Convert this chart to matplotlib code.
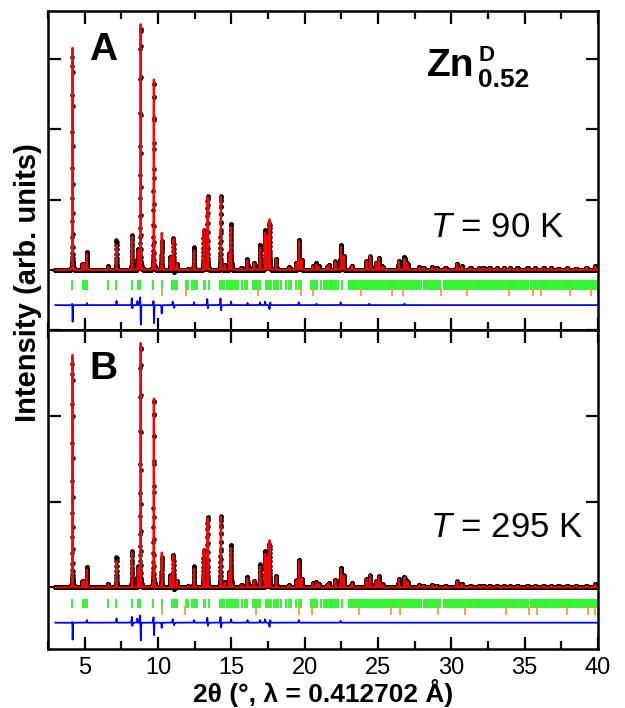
import numpy as np
import matplotlib
matplotlib.use('Agg')
import matplotlib.pyplot as plt

plt.rcParams['font.family'] = ['Liberation Sans', 'DejaVu Sans']
plt.rcParams['mathtext.fontset'] = 'custom'
plt.rcParams['mathtext.rm'] = 'Liberation Sans'
plt.rcParams['mathtext.it'] = 'Liberation Sans:italic'
plt.rcParams['mathtext.bf'] = 'Liberation Sans:bold'

# ---- data ----
# peak positions (2theta, deg) and heights (arb. units) for 90 K (A) and 295 K (B)
peak_pos = [4.17, 4.85, 4.93, 5.15, 6.59, 7.17, 8.23, 8.62, 8.81, 9.71,
            10.25, 10.85, 11.05, 11.30, 12.05, 12.45, 13.11, 13.38, 14.28, 14.55,
            14.86, 14.98, 15.70, 16.08, 16.53, 16.95, 17.31, 17.45, 17.60, 18.05,
            18.95, 19.44, 19.62, 19.80, 20.56, 20.79, 20.95, 21.53, 21.64, 22.09,
            22.47, 22.65, 23.21, 24.22, 24.45, 24.85, 25.07, 25.30, 26.42, 26.80,
            27.00, 27.81, 28.10, 28.70, 29.00, 29.60, 30.39, 30.70, 31.30, 31.90,
            32.20, 32.60, 33.10, 33.60, 34.00, 34.50, 35.20, 35.70, 36.30, 36.80,
            37.30, 37.90, 38.50, 39.20, 39.80]
height_A = [3.16, 0.08, 0.09, 0.23, 0.05, 0.36, 0.48, 0.28, 3.51, 2.72,
            0.53, 0.18, 0.45, 0.09, 0.02, 0.28, 0.57, 1.04, 1.04, 0.07,
            0.23, 0.61, 0.03, 0.14, 0.10, 0.32, 0.53, 0.48, 0.72, 0.16,
            0.04, 0.10, 0.41, 0.14, 0.06, 0.08, 0.05, 0.04, 0.07, 0.12,
            0.33, 0.20, 0.06, 0.13, 0.19, 0.10, 0.17, 0.05, 0.13, 0.16,
            0.10, 0.04, 0.03, 0.04, 0.03, 0.03, 0.09, 0.05, 0.03, 0.03,
            0.03, 0.03, 0.03, 0.03, 0.03, 0.03, 0.03, 0.03, 0.03, 0.03,
            0.02, 0.03, 0.02, 0.03, 0.05]
height_B = [2.71, 0.07, 0.08, 0.21, 0.04, 0.31, 0.41, 0.23, 2.86, 2.21,
            0.41, 0.14, 0.38, 0.08, 0.02, 0.22, 0.44, 0.81, 0.83, 0.06,
            0.18, 0.46, 0.03, 0.11, 0.08, 0.24, 0.39, 0.36, 0.55, 0.13,
            0.03, 0.08, 0.31, 0.10, 0.05, 0.06, 0.04, 0.03, 0.05, 0.09,
            0.22, 0.14, 0.05, 0.10, 0.14, 0.08, 0.13, 0.04, 0.10, 0.12,
            0.07, 0.03, 0.02, 0.03, 0.02, 0.02, 0.07, 0.04, 0.02, 0.02,
            0.02, 0.02, 0.02, 0.02, 0.02, 0.02, 0.02, 0.02, 0.02, 0.02,
            0.02, 0.02, 0.02, 0.02, 0.04]

# difference curve spikes (obs - calc)
diff_pos_A = [4.15, 4.18, 5.15, 7.17, 8.21, 8.25, 8.60, 8.78, 8.83, 9.69, 9.73,
              10.25, 11.00, 11.10, 12.45, 13.36, 13.40, 14.26, 14.30, 14.98,
              16.10, 16.95, 17.30, 17.60, 17.65, 19.60, 20.80, 22.45, 24.40, 26.80]
diff_amp_A = [0.03, -0.24, 0.03, 0.06, 0.10, -0.05, 0.06, 0.12, -0.28, 0.07, -0.26,
              -0.12, 0.05, -0.04, 0.04, 0.09, -0.05, 0.10, -0.08, 0.05,
              0.03, 0.04, 0.05, -0.06, 0.04, 0.04, 0.02, 0.04, 0.02, 0.02]
diff_pos_B = [4.15, 4.18, 5.15, 7.17, 8.21, 8.25, 8.60, 8.78, 8.83, 9.69, 9.73,
              10.25, 11.00, 11.10, 12.45, 13.36, 13.40, 14.26, 14.30, 14.98,
              16.10, 16.95, 17.30, 17.60, 17.65, 19.60, 22.45]
diff_amp_B = [0.02, -0.20, 0.03, 0.05, 0.07, -0.04, 0.05, 0.09, -0.21, 0.07, -0.15,
              -0.06, 0.04, -0.03, 0.03, 0.06, -0.04, 0.07, -0.06, 0.04,
              0.03, 0.03, 0.04, -0.05, 0.03, 0.03, 0.02]

# main phase reflections (green)
refl_main = [4.14, 4.88, 5.02, 5.15, 6.57, 7.13, 8.25, 8.63, 8.72, 8.79, 9.69, 10.25,
             10.94, 11.10, 11.20, 11.28, 11.90, 12.06, 12.33, 12.44, 12.56, 12.67,
             13.12, 13.23, 13.45, 14.24, 14.35, 14.42, 14.51, 14.69, 14.87, 14.96,
             15.02, 15.13, 15.24, 15.36, 15.47, 15.76, 15.92, 16.03, 16.08, 16.48,
             16.59, 16.71, 16.82, 16.93, 17.33, 17.49, 17.60, 17.72, 17.94, 18.05,
             18.16, 18.39, 18.72, 18.95, 19.06, 19.44, 19.58, 19.73, 20.41, 20.52,
             20.63, 20.74, 20.86, 21.08, 21.30, 21.46, 21.55, 21.62, 21.70, 21.78,
             21.86, 21.95, 22.05, 22.15, 22.25, 22.54,
             23.00, 23.08, 23.15, 23.22, 23.30, 23.38, 23.45, 23.52, 23.60, 23.68,
             23.75, 23.82, 23.90, 23.98, 24.05, 24.12, 24.20, 24.28, 24.35, 24.42,
             24.50, 24.58, 24.75, 24.82, 24.90, 24.98, 25.05, 25.12, 25.20, 25.28,
             25.35, 25.42, 25.50, 25.58, 25.65, 25.72, 25.80, 25.88, 25.95, 26.02,
             26.10, 26.18, 26.25, 26.32, 26.40, 26.48, 26.65, 26.72, 26.80, 26.88,
             26.95, 27.02, 27.10, 27.18, 27.25, 27.32, 27.40, 27.48, 27.55, 27.62,
             27.70, 27.78, 27.85, 27.92, 28.12, 28.20, 28.28, 28.35, 28.42, 28.50,
             28.58, 28.65, 28.72, 28.80, 28.88, 28.95, 29.02, 29.10, 29.18, 29.25,
             29.48, 29.55, 29.62, 29.70, 29.78, 29.85, 29.92, 30.00, 30.08, 30.15,
             30.22, 30.38, 30.45, 30.52, 30.68, 30.75, 30.82, 30.90, 30.98, 31.05,
             31.12, 31.20, 31.28, 31.35, 31.42, 31.50, 31.58, 31.65, 31.72, 31.80,
             31.88, 31.95, 32.02, 32.10, 32.25, 32.32, 32.40, 32.48, 32.55, 32.62,
             32.70, 32.78, 32.85, 32.92, 33.00, 33.08, 33.15, 33.22, 33.30, 33.38,
             33.52, 33.60, 33.75, 33.82, 33.90, 33.98, 34.05, 34.12, 34.20, 34.28,
             34.35, 34.42, 34.50, 34.58, 34.65, 34.72, 34.80, 34.95, 35.02, 35.10,
             35.18, 35.25, 35.40, 35.48, 35.55, 35.62, 35.70, 35.78, 35.92, 36.00,
             36.08, 36.15, 36.22, 36.30, 36.38, 36.45, 36.52, 36.60, 36.75, 36.82,
             36.90, 36.98, 37.05, 37.12, 37.20, 37.28, 37.35, 37.42, 37.50, 37.58,
             37.65, 37.72, 37.80, 37.88, 37.95, 38.02, 38.10, 38.18, 38.25, 38.32,
             38.40, 38.48, 38.55, 38.62, 38.70, 38.78, 38.85, 38.92, 39.00, 39.08,
             39.15, 39.22, 39.30, 39.38, 39.45, 39.52, 39.60, 39.68, 39.75, 39.82,
             39.90, 39.98]
# second phase reflections (orange)
refl_imp_A = [10.27, 11.88, 16.82, 19.73, 20.59, 23.82, 25.97, 26.69, 29.27, 31.07,
              33.93, 35.56, 36.08, 38.09, 39.52, 39.98]
refl_imp_B = [10.25, 11.82, 16.71, 19.62, 20.52, 23.73, 25.86, 26.53, 29.11, 30.90,
              33.75, 35.32, 35.84, 37.86, 39.32, 39.81]

temps = ['90', '295']
labels = ['A', 'B']

# ---- profile from the peak list (pseudo-Voigt) ----
tth = np.arange(3.0, 40.0001, 0.003)
eta = 0.4

def fwhm(p):
    return 0.018 + 0.0011 * p

def profile(pos, amp):
    y = np.zeros_like(tth)
    for p, h in zip(pos, amp):
        u = (tth - p) / fwhm(p)
        g = np.exp(-4 * np.log(2) * u ** 2)
        l = 1.0 / (1.0 + 4 * u ** 2)
        y += h * (eta * l + (1 - eta) * g)
    return y

green = '#33f533'
orange = '#ff9933'

fig = plt.figure(figsize=(6.25, 7.08), dpi=100)
axA = fig.add_axes([0.0768, 0.534, 0.88, 0.4506])
axB = fig.add_axes([0.0768, 0.0833, 0.88, 0.4506])

panels = [
    (axA, height_A, diff_pos_A, diff_amp_A, refl_imp_A, (-0.853, 3.684),
     (-0.14, -0.28), (-0.26, -0.37), -0.50),
    (axB, height_B, diff_pos_B, diff_amp_B, refl_imp_B, (-0.717, 2.97),
     (-0.13, -0.24), (-0.22, -0.32), -0.41),
]

for i, (ax, hts, dpos, damp, imp, ylim, gy, oy, off) in enumerate(panels):
    calc = profile(peak_pos, hts)
    diff = profile(dpos, damp)
    obs = calc + diff

    # observed points, calculated curve on top
    ax.plot(tth, obs, 'o', color='k', ms=3.3, mew=0, zorder=1)
    ax.fill_between(tth, 0, calc, color='red', lw=0, zorder=2)
    ax.plot(tth, calc, '-', color='red', lw=1.4, zorder=3)

    ax.vlines(refl_main, gy[1], gy[0], color=green, lw=1.4)
    ax.vlines(imp, oy[1], oy[0], color=orange, lw=1.3)
    ax.plot(tth, diff + off, color='#0000ff', lw=1.3)

    ax.set_xlim(3, 40)
    ax.set_ylim(*ylim)
    ax.set_xticks(np.arange(5, 41, 5))
    ax.set_xticks(np.arange(2.5, 40.1, 2.5), minor=True)
    ax.set_yticks([0, 1, 2, 3])
    ax.set_yticklabels([])
    ax.tick_params(which='both', direction='in', top=True, right=True, width=1.6)
    ax.tick_params(which='major', length=9)
    ax.tick_params(which='minor', length=5.5)
    ax.tick_params(axis='x', labelsize=17, pad=6)
    for s in ax.spines.values():
        s.set_linewidth(1.8)

    ax.text(0.1, 0.878, labels[i], transform=ax.transAxes, fontsize=28,
            fontweight='bold', ha='center', va='center')

axA.set_xticklabels([])
axA.text(0.6945, 0.2925, '$T$ = ' + temps[0] + ' K', transform=axA.transAxes,
         fontsize=25, ha='left', va='baseline')
axB.text(0.6945, 0.352, '$T$ = ' + temps[1] + ' K', transform=axB.transAxes,
         fontsize=25, ha='left', va='baseline')

# Zn^D_0.52 label
axA.text(0.689, 0.796, 'Zn', transform=axA.transAxes, fontsize=28,
         fontweight='bold', ha='left', va='baseline')
axA.text(0.782, 0.842, 'D', transform=axA.transAxes, fontsize=16,
         fontweight='bold', ha='left', va='baseline')
axA.text(0.782, 0.762, '0.52', transform=axA.transAxes, fontsize=19,
         fontweight='bold', ha='left', va='baseline')

axB.set_xlabel('2θ (°, λ = 0.412702 Å)', fontsize=19, fontweight='bold', labelpad=0)
fig.text(0.045, 1 - 283 / 708, 'Intensity (arb. units)', rotation=90,
         fontsize=21, fontweight='bold', ha='center', va='center')

fig.savefig('out.png', dpi=100)
